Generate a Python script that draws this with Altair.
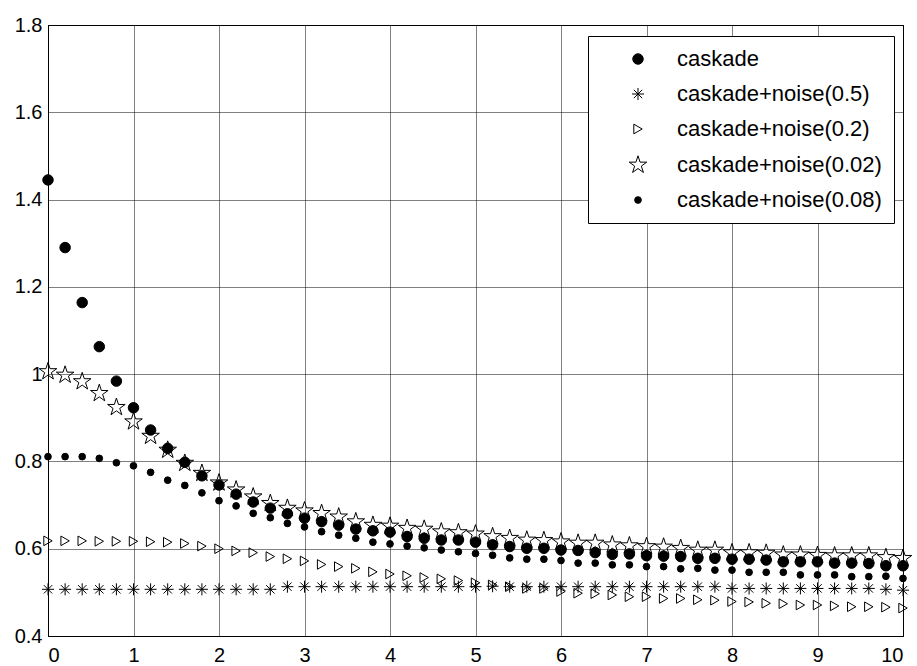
import math
import altair as alt
import pandas as pd

x_vals = [0.0, 0.2, 0.4, 0.6, 0.8, 1.0, 1.2, 1.4, 1.6, 1.8,
          2.0, 2.2, 2.4, 2.6, 2.8, 3.0, 3.2, 3.4, 3.6, 3.8,
          4.0, 4.2, 4.4, 4.6, 4.8, 5.0, 5.2, 5.4, 5.6, 5.8,
          6.0, 6.2, 6.4, 6.6, 6.8, 7.0, 7.2, 7.4, 7.6, 7.8,
          8.0, 8.2, 8.4, 8.6, 8.8, 9.0, 9.2, 9.4, 9.6, 9.8, 10.0]

caskade = [1.445, 1.290, 1.164, 1.063, 0.984, 0.923, 0.872, 0.830, 0.798, 0.767,
           0.746, 0.725, 0.707, 0.693, 0.680, 0.670, 0.662, 0.654, 0.645, 0.641,
           0.638, 0.628, 0.624, 0.620, 0.620, 0.615, 0.609, 0.605, 0.601, 0.601,
           0.597, 0.596, 0.591, 0.587, 0.588, 0.584, 0.583, 0.582, 0.578, 0.578,
           0.576, 0.576, 0.574, 0.570, 0.570, 0.570, 0.567, 0.567, 0.566, 0.561, 0.561]

noise_05 = [0.507, 0.507, 0.507, 0.507, 0.507, 0.507, 0.507, 0.507, 0.507, 0.507,
            0.507, 0.507, 0.507, 0.507, 0.513, 0.513, 0.513, 0.513, 0.513, 0.513,
            0.513, 0.513, 0.513, 0.513, 0.513, 0.513, 0.514, 0.513, 0.513, 0.513,
            0.513, 0.513, 0.513, 0.513, 0.513, 0.513, 0.513, 0.513, 0.513, 0.513,
            0.509, 0.509, 0.509, 0.509, 0.509, 0.509, 0.509, 0.509, 0.509, 0.507, 0.505]

noise_02 = [0.618, 0.618, 0.618, 0.617, 0.617, 0.617, 0.616, 0.615, 0.612, 0.606,
            0.600, 0.595, 0.591, 0.582, 0.577, 0.572, 0.564, 0.559, 0.555, 0.547,
            0.542, 0.538, 0.534, 0.531, 0.527, 0.522, 0.517, 0.513, 0.509, 0.509,
            0.502, 0.498, 0.497, 0.494, 0.490, 0.490, 0.486, 0.486, 0.483, 0.482,
            0.479, 0.478, 0.475, 0.474, 0.471, 0.471, 0.469, 0.467, 0.467, 0.466, 0.464]

noise_002 = [1.006, 0.998, 0.983, 0.956, 0.924, 0.891, 0.858, 0.826, 0.796, 0.773,
             0.751, 0.735, 0.719, 0.704, 0.693, 0.687, 0.681, 0.673, 0.662, 0.654,
             0.652, 0.647, 0.645, 0.639, 0.637, 0.634, 0.628, 0.624, 0.620, 0.619,
             0.616, 0.613, 0.613, 0.609, 0.607, 0.605, 0.604, 0.601, 0.597, 0.597,
             0.591, 0.591, 0.590, 0.586, 0.586, 0.585, 0.584, 0.584, 0.584, 0.580, 0.578]

noise_008 = [0.811, 0.811, 0.811, 0.807, 0.797, 0.790, 0.775, 0.757, 0.745, 0.728,
             0.710, 0.698, 0.681, 0.671, 0.658, 0.650, 0.639, 0.631, 0.624, 0.615,
             0.611, 0.606, 0.602, 0.597, 0.593, 0.589, 0.585, 0.579, 0.576, 0.576,
             0.573, 0.567, 0.567, 0.563, 0.563, 0.559, 0.559, 0.554, 0.555, 0.551,
             0.551, 0.546, 0.546, 0.546, 0.540, 0.540, 0.540, 0.536, 0.536, 0.537, 0.532]

series_names = ["caskade", "caskade+noise(0.5)", "caskade+noise(0.2)",
                "caskade+noise(0.02)", "caskade+noise(0.08)"]
series_values = [caskade, noise_05, noise_02, noise_002, noise_008]

x_ticks = [0, 1, 2, 3, 4, 5, 6, 7, 8, 9, 10]
y_ticks = [0.4, 0.6, 0.8, 1.0, 1.2, 1.4, 1.6, 1.8]

# marker shapes (unit-scaled SVG paths)
pts = []
for k in range(10):
    r = 1.0 if k % 2 == 0 else 0.382
    a = math.radians(-90 + 36 * k)
    pts.append((r * math.cos(a), r * math.sin(a)))
star_path = "M" + "L".join(f"{px:.4f},{py:.4f}" for px, py in pts) + "Z"
asterisk_path = "M-1,0L1,0M0,-1L0,1M-0.7,-0.7L0.7,0.7M-0.7,0.7L0.7,-0.7"
tri_path = "M-0.7,-0.8L0.7,0L-0.7,0.8Z"

shapes = ["circle", asterisk_path, tri_path, star_path, "circle"]
sizes = [110, 144, 144, 340, 45]
fills = ["black", "transparent", "transparent", "transparent", "black"]
strokes = ["black", "black", "black", "black", "black"]

rows = []
for name, vals in zip(series_names, series_values):
    for xv, yv in zip(x_vals, vals):
        rows.append({"x": xv, "y": yv, "series": name})
df = pd.DataFrame(rows)

font = "Liberation Sans"

legend = alt.Legend(
    title=None, orient="none", legendX=540, legendY=11,
    strokeColor="black", fillColor="white", padding=12,
    labelFont=font, labelFontSize=22, labelColor="black", labelLimit=400,
    labelOffset=28, symbolOffset=27, rowPadding=13,
)

chart = alt.Chart(df).mark_point(strokeWidth=1, opacity=1).encode(
    x=alt.X("x:Q", scale=alt.Scale(domain=[0, 10], nice=False, zero=False),
            axis=alt.Axis(values=x_ticks, title=None, format="d")),
    y=alt.Y("y:Q", scale=alt.Scale(domain=[0.4, 1.8], nice=False, zero=False),
            axis=alt.Axis(values=y_ticks, title=None, format=".1~f")),
    shape=alt.Shape("series:N", scale=alt.Scale(type="ordinal", domain=series_names, range=shapes), legend=legend),
    size=alt.Size("series:N", scale=alt.Scale(type="ordinal", domain=series_names, range=sizes), legend=legend),
    fill=alt.Fill("series:N", scale=alt.Scale(type="ordinal", domain=series_names, range=fills), legend=legend),
    stroke=alt.Stroke("series:N", scale=alt.Scale(type="ordinal", domain=series_names, range=strokes), legend=legend),
).properties(
    width=855, height=611,
    autosize=alt.AutoSizeParams(type="none"),
    padding={"left": 48, "top": 25, "right": 14, "bottom": 30},
    background="white",
).configure_view(
    stroke="black", strokeWidth=1
).configure_axis(
    domainColor="black", domainWidth=1,
    grid=True, gridColor="black", gridDash=[1, 1], gridOpacity=1, gridWidth=1,
    ticks=False,
    labelFont=font, labelFontSize=20, labelColor="black",
).configure_axisX(
    labelPadding=9
).configure_axisY(
    labelPadding=6
).configure_legend(
    symbolStrokeWidth=1
)

chart.save("out.html", embed_options={"renderer": "svg", "actions": False})
